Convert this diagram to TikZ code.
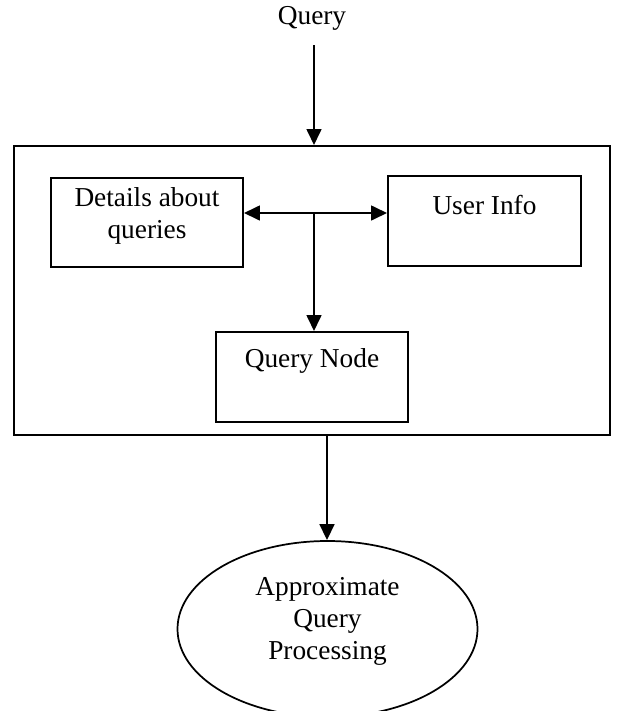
\documentclass[tikz,border=0pt]{standalone}
\usepackage{fontspec}
\setmainfont{Liberation Serif}
\usetikzlibrary{arrows.meta,shapes.geometric}
\begin{document}
\begin{tikzpicture}[x=0.75pt,y=-0.75pt,
  box/.style={draw,line width=1.4pt,inner sep=0pt},
  lbl/.style={font=\fontsize{20.5}{24}\selectfont,align=center,inner sep=0pt},
  tip/.tip={Triangle[length=12pt,width=11pt]},
  flow/.style={line width=1.9pt,-tip},
  both/.style={line width=1.9pt,tip-tip}]
\useasboundingbox (0,0) rectangle (628,711);
% incoming query
\node[lbl] (q) at (312,18) {Query};
% system frame
\node[box,minimum width=596*0.75pt,minimum height=289*0.75pt] (frame) at (312,290.5) {};
% inner boxes
\node[box,minimum width=192*0.75pt,minimum height=89*0.75pt] (det) at (147,222.5) {};
\node[lbl] (dett) at (147,216) {Details about\\queries};
\node[box,minimum width=193*0.75pt,minimum height=90*0.75pt] (usr) at (484.5,221) {};
\node[lbl] (usrt) at (484.5,205) {User Info};
\node[box,minimum width=192*0.75pt,minimum height=90*0.75pt] (qn) at (312,377) {};
\node[lbl] (qnt) at (312,361) {Query Node};
% result
\node[draw,line width=1.3pt,ellipse,minimum width=300*0.75pt,minimum height=176*0.75pt,inner sep=0pt] (aqp) at (327.5,629) {};
\node[lbl] (aqpt) at (327.5,621) {Approximate\\Query\\Processing};
% connectors
\coordinate (qtop) at (314,45);
\coordinate (hub) at (314,213);
\coordinate (out) at (327,435);
\draw[flow] (qtop) -- (qtop |- frame.north);
\draw[both] (det.east |- hub) -- (usr.west |- hub);
\draw[flow] (hub) -- (hub |- qn.north);
\draw[flow] (out) -- (out |- aqp.north);
\end{tikzpicture}
\end{document}
